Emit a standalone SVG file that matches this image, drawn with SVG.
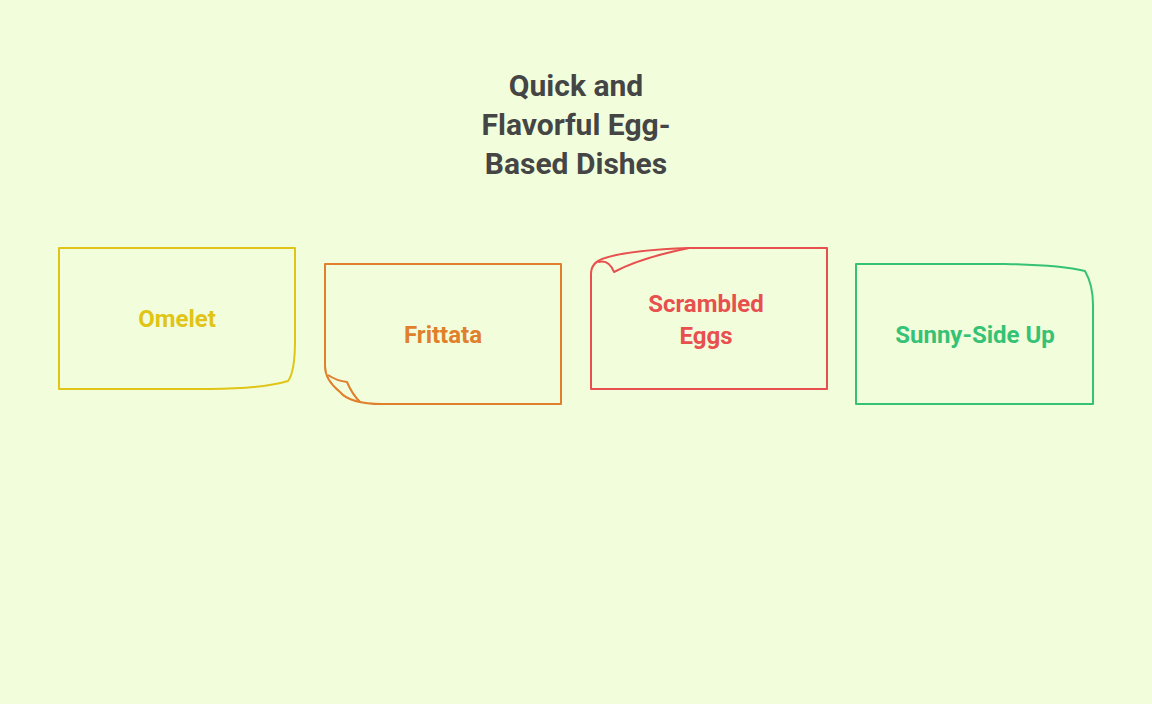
<svg xmlns="http://www.w3.org/2000/svg" width="1152" height="704" viewBox="0 0 1152 704">
<style>
.t{font-family:Roboto,"Liberation Sans",sans-serif;font-weight:700;text-anchor:middle}
.title{font-size:30px;fill:#454545}
.lab{font-size:24px}
.box{fill:none;stroke-width:2;stroke-linejoin:round}
</style>
<rect width="1152" height="704" fill="#f2fedb"/>
<g id="title"><text class="t title" x="576" y="96">Quick and</text><text class="t title" x="576" y="135">Flavorful Egg-</text><text class="t title" x="576" y="174">Based Dishes</text></g>
<g id="omelet">
<path class="box" stroke="#e0c416" d="M59 248 H295 V340 Q295 372 288 381 Q260 389 210 389 H59 Z"/>
<text class="t lab" fill="#e0c416" x="177" y="327">Omelet</text>
</g>
<g id="frittata">
<path class="box" stroke="#e07f2c" d="M325 264 H561 V404 H382 Q350 404 340 392 Q325 380 325 366 Z"/>
<path class="box" stroke="#e07f2c" d="M328 375 Q337 381 347 382 Q352 394 360 402"/>
<text class="t lab" fill="#e07f2c" x="443" y="343">Frittata</text>
</g>
<g id="scrambled">
<path class="box" stroke="#e84f4f" d="M591 389 H827 V248 H689 Q630 250 605 258 Q591 262 591 274 Z"/>
<path class="box" stroke="#e84f4f" d="M598 262 Q609 259 614 272 Q640 258 689 248"/>
<text class="t lab" fill="#e84f4f" x="706" y="312">Scrambled</text>
<text class="t lab" fill="#e84f4f" x="706" y="344">Eggs</text>
</g>
<g id="sunny">
<path class="box" stroke="#35c275" d="M856 264 H1005 Q1060 265 1085 271 Q1093 285 1093 305 V404 H856 Z"/>
<text class="t lab" fill="#35c275" x="975" y="343">Sunny-Side Up</text>
</g>
<g id="connectors"/>
</svg>
